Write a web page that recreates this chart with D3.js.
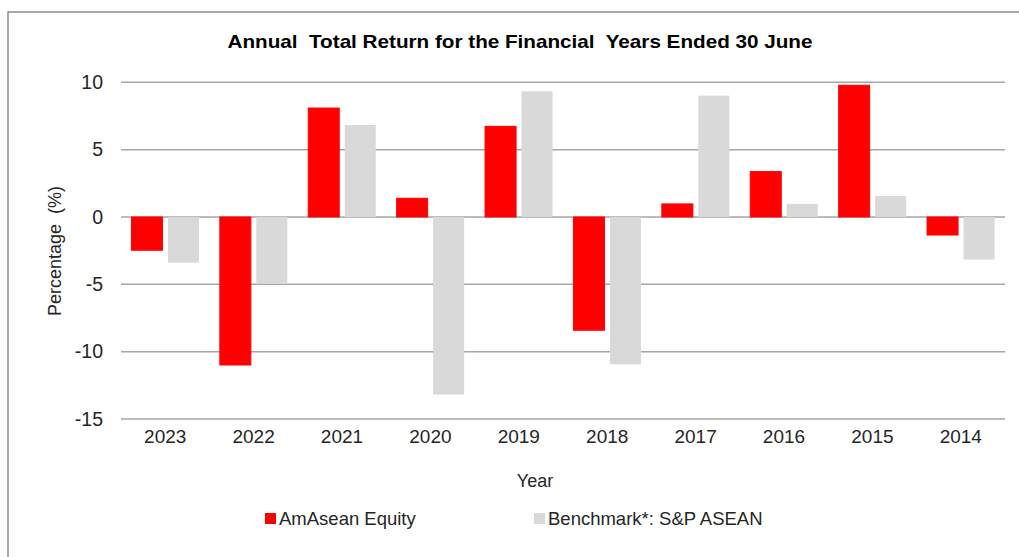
<!DOCTYPE html>
<html lang="en">
<head>
    <meta charset="UTF-8">
    <title>Annual Total Return for the Financial Years Ended 30 June</title>
    <script src="https://d3js.org/d3.v7.min.js"></script>
    <style>
        body { margin: 0; background: #fff; font-family: "Liberation Sans", Arial, sans-serif; }
        text { fill: #262626; }
    </style>
</head>
<body>
    <svg width="1019" height="557"></svg>

    <script>
        // data
        const years = ["2023", "2022", "2021", "2020", "2019", "2018", "2017", "2016", "2015", "2014"];
        const fundReturns = [-2.47, -10.99, 8.09, 1.39, 6.73, -8.41, 0.97, 3.37, 9.78, -1.34];
        const benchReturns = [-3.39, -4.97, 6.83, -13.18, 9.33, -10.94, 9.01, 0.97, 1.56, -3.16];
        const seriesNames = ["AmAsean Equity", "Benchmark*: S&P ASEAN"];
        const seriesColors = ["#ff0000", "#d9d9d9"];
        const yTicks = [10, 5, 0, -5, -10, -15];

        const rows = years.map((y, i) => ({ year: y, values: [fundReturns[i], benchReturns[i]] }));

        const svg = d3.select("svg");

        // outer frame (only left and top edges show in the picture)
        svg.append("rect")
            .attr("x", 8).attr("y", 12)
            .attr("width", 1030).attr("height", 570)
            .attr("fill", "none")
            .attr("stroke", "#8c8c8c")
            .attr("stroke-width", 1.5);

        const plotL = 121, plotR = 1005, plotT = 82.3, plotB = 419;

        const x = d3.scaleBand().domain(years).range([plotL, plotR]).padding(0);
        const x1 = d3.scaleBand().domain([0, 1]).range([0, x.bandwidth()])
            .paddingInner(0.15).paddingOuter(0.286);
        const y = d3.scaleLinear().domain([-15, 10]).range([plotB, plotT]);

        // gridlines
        svg.append("g")
            .selectAll("line")
            .data(yTicks)
            .join("line")
            .attr("x1", plotL).attr("x2", plotR)
            .attr("y1", d => y(d)).attr("y2", d => y(d))
            .attr("stroke", "#a6a6a6")
            .attr("stroke-width", 1.5);

        // y axis labels (plain hyphen for negatives, like the original)
        const yAxis = svg.append("g")
            .attr("transform", `translate(${plotL - 18},0)`)
            .call(d3.axisLeft(y).tickValues(yTicks).tickFormat(d => String(d)).tickSize(0).tickPadding(0));
        yAxis.select(".domain").remove();
        yAxis.selectAll("text")
            .style("font-size", "19.5px")
            .style("font-family", "Liberation Sans, Arial, sans-serif")
            .attr("fill", "#262626");

        // bars
        const groups = svg.append("g")
            .selectAll("g")
            .data(rows)
            .join("g")
            .attr("transform", d => `translate(${x(d.year)},0)`);

        groups.selectAll("rect")
            .data(d => d.values.map((v, i) => ({ v, i })))
            .join("rect")
            .attr("x", d => x1(d.i))
            .attr("width", x1.bandwidth())
            .attr("y", d => y(Math.max(0, d.v)))
            .attr("height", d => Math.abs(y(d.v) - y(0)))
            .attr("fill", d => seriesColors[d.i])
            .attr("stroke", d => d.i === 0 ? seriesColors[0] : "none")
            .attr("stroke-width", 1);

        // x axis labels
        const xAxis = svg.append("g")
            .attr("transform", `translate(0,${plotB + 10})`)
            .call(d3.axisBottom(x).tickSize(0).tickPadding(0));
        xAxis.select(".domain").remove();
        xAxis.selectAll("text")
            .attr("dy", "0.71em")
            .style("font-size", "19px")
            .style("font-family", "Liberation Sans, Arial, sans-serif")
            .attr("fill", "#262626");

        // title
        svg.append("text")
            .attr("x", 520).attr("y", 48)
            .attr("text-anchor", "middle")
            .attr("textLength", 585)
            .attr("lengthAdjust", "spacingAndGlyphs")
            .style("font-size", "19px")
            .style("font-weight", "bold")
            .style("fill", "#000")
            .style("white-space", "pre")
            .text("Annual  Total Return for the Financial  Years Ended 30 June");

        // axis titles
        svg.append("text")
            .attr("x", 535).attr("y", 487)
            .attr("text-anchor", "middle")
            .style("font-size", "18px")
            .text("Year");

        svg.append("text")
            .attr("transform", "translate(61,251) rotate(-90)")
            .attr("text-anchor", "middle")
            .style("font-size", "18px")
            .style("white-space", "pre")
            .text("Percentage  (%)");

        // legend
        const legendX = [265, 534];
        const legend = svg.append("g")
            .selectAll("g")
            .data(seriesNames)
            .join("g")
            .attr("transform", (d, i) => `translate(${legendX[i]},513)`);
        legend.append("rect")
            .attr("width", 11).attr("height", 11)
            .attr("fill", (d, i) => seriesColors[i]);
        legend.append("text")
            .attr("x", 14).attr("y", 12)
            .style("font-size", "18.5px")
            .text(d => d);
    </script>
</body>
</html>
